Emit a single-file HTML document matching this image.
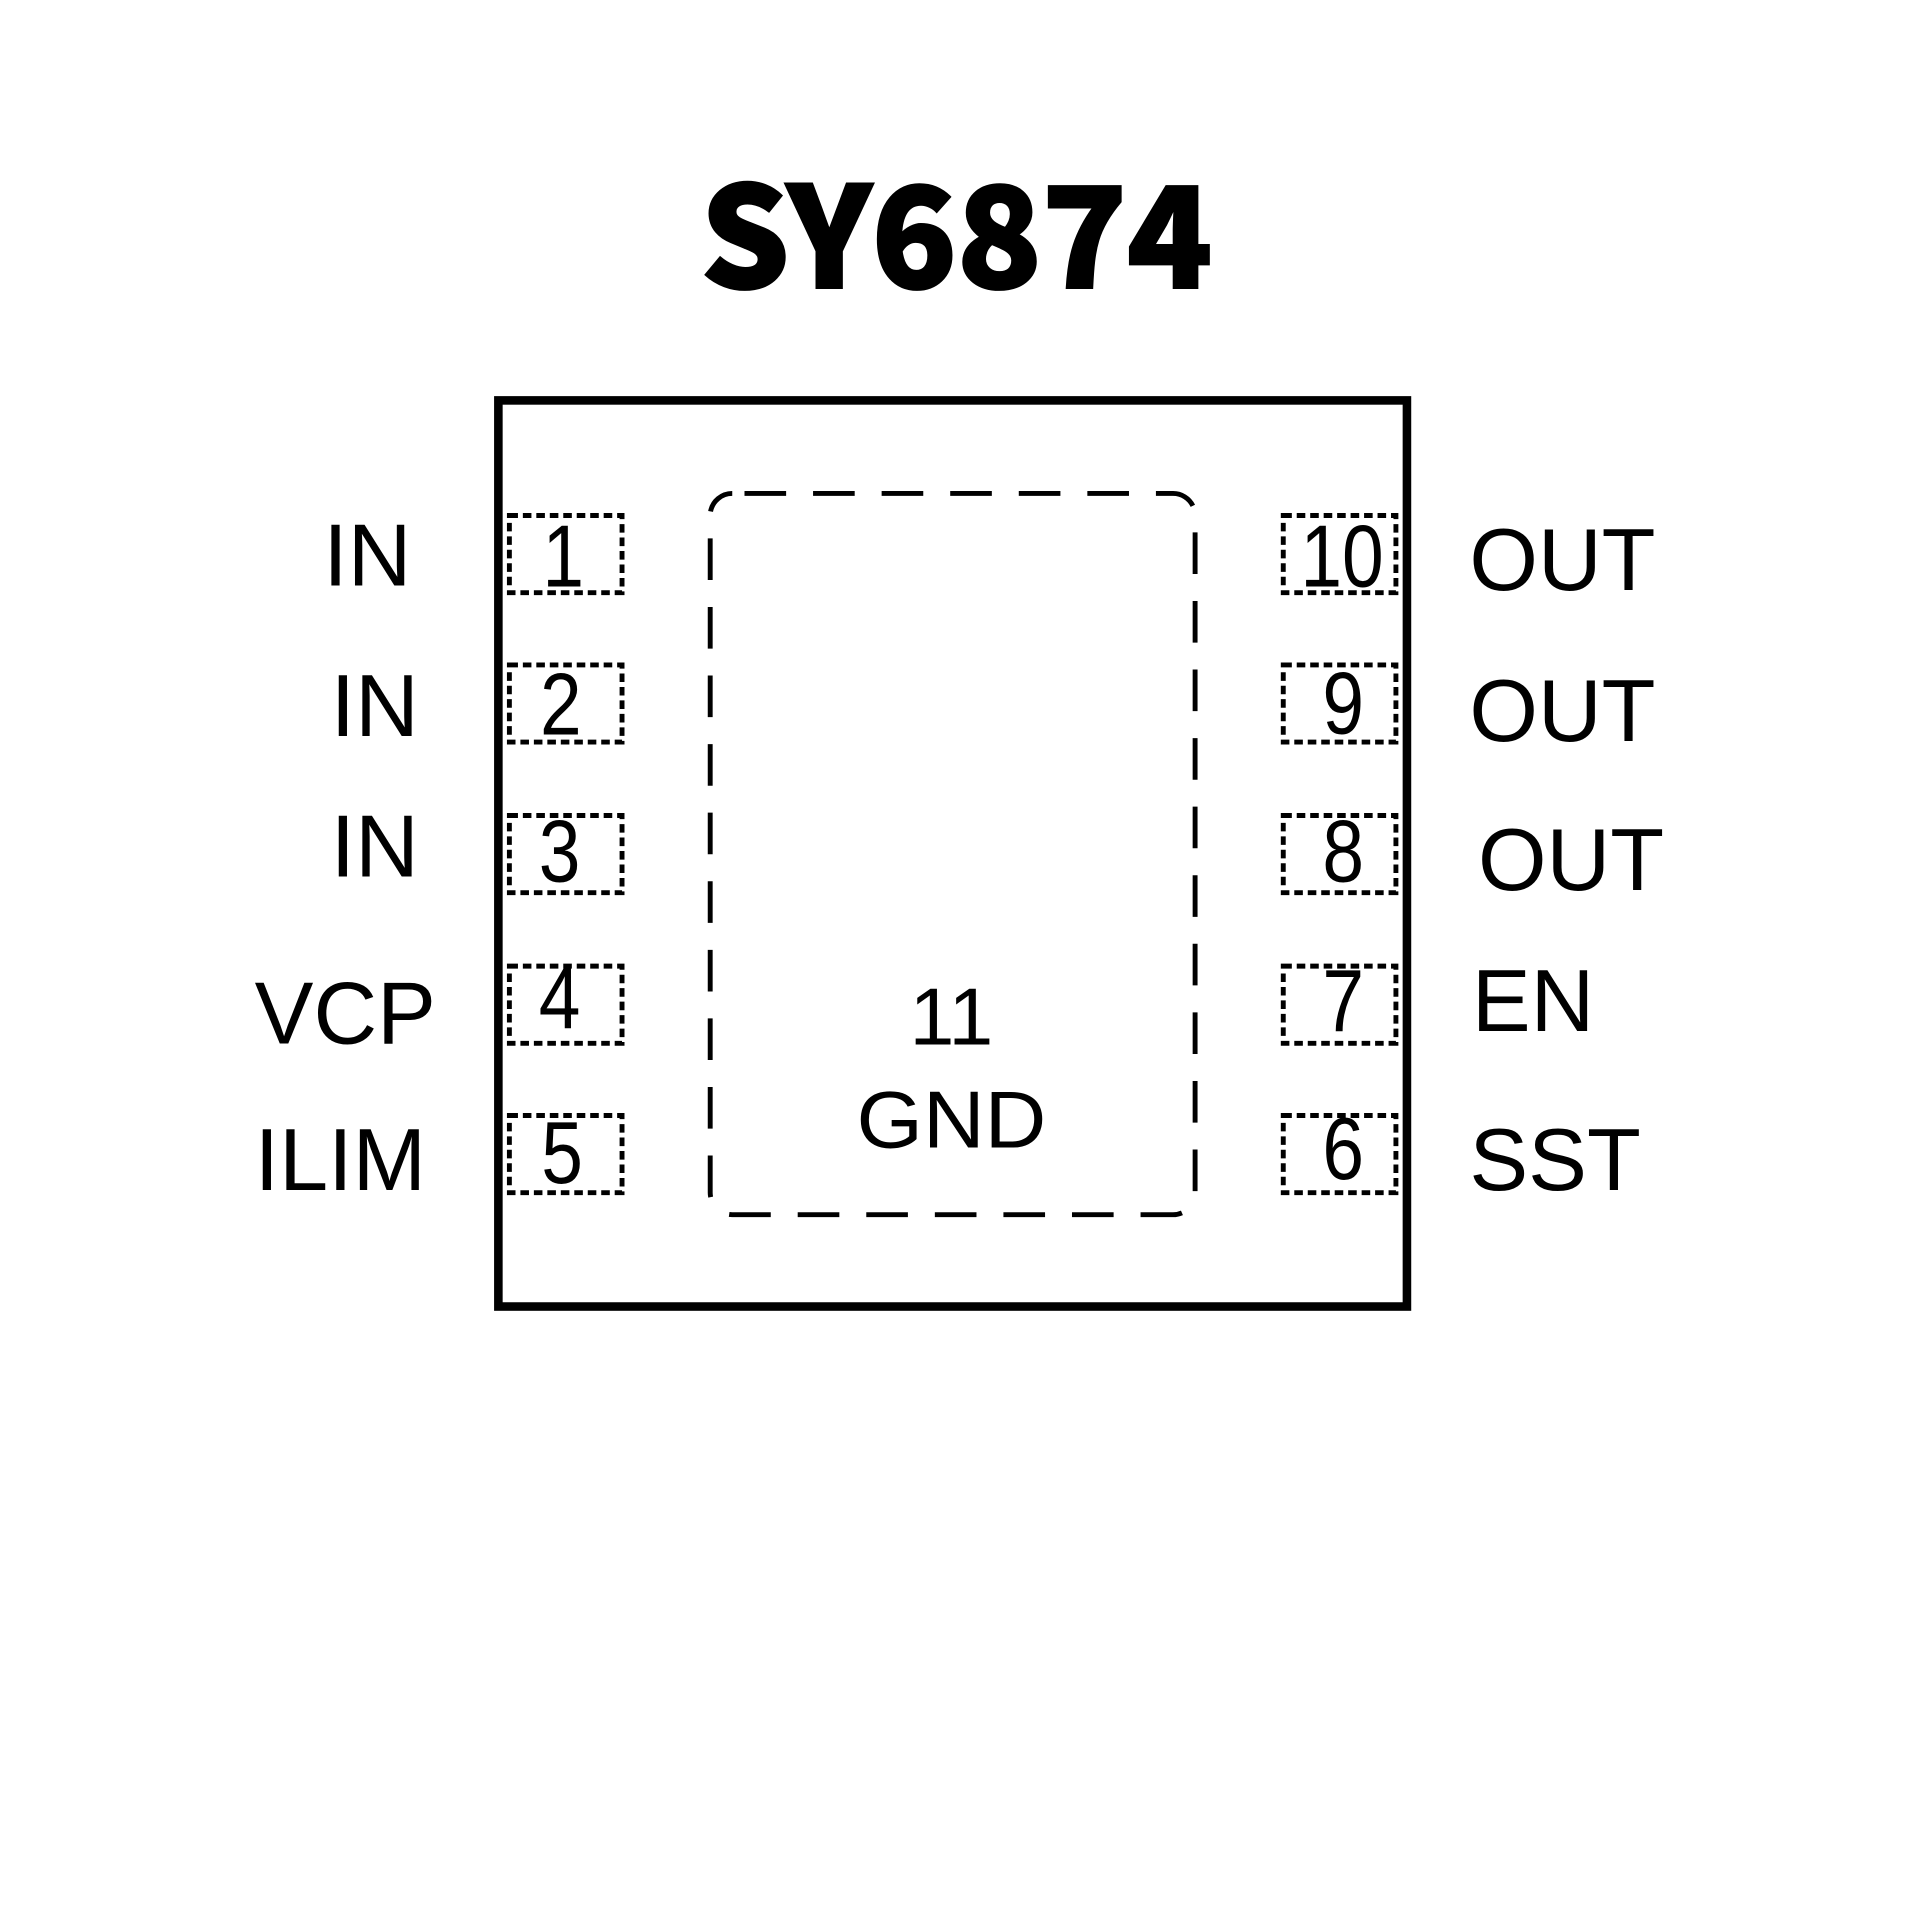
<!DOCTYPE html>
<html><head><meta charset="utf-8"><style>
html,body{margin:0;padding:0;background:#fff;}
svg{display:block;}
</style></head><body>
<svg width="1920" height="1920" viewBox="0 0 1568 1568" xmlns="http://www.w3.org/2000/svg">
<rect width="1568" height="1568" fill="#fff"/>
<text x="572" y="235" font-family="'Noto Sans CJK SC','DejaVu Sans',sans-serif" font-weight="900" font-size="114" textLength="418" lengthAdjust="spacingAndGlyphs" stroke="#000" stroke-width="2">SY6874</text>
<rect x="407" y="327" width="742" height="740" fill="none" stroke="#000" stroke-width="7"/>
<rect x="580" y="403" width="396" height="589" rx="18" fill="none" stroke="#000" stroke-width="4" stroke-dasharray="34 22" stroke-dashoffset="-10"/>
<g fill="none" stroke="#000" stroke-width="4" stroke-dasharray="7 4">
<rect x="416" y="421" width="92" height="63"/>
<rect x="416" y="543" width="92" height="63"/>
<rect x="416" y="666" width="92" height="63"/>
<rect x="416" y="789" width="92" height="63"/>
<rect x="416" y="911" width="92" height="63"/>
<rect x="1048" y="421" width="92" height="63"/>
<rect x="1048" y="543" width="92" height="63"/>
<rect x="1048" y="666" width="92" height="63"/>
<rect x="1048" y="789" width="92" height="63"/>
<rect x="1048" y="911" width="92" height="63"/>
</g>
<g font-family="'Liberation Sans',sans-serif" font-size="72" text-anchor="middle">
<text x="460" y="479" transform="translate(460 0) scale(0.85 1) translate(-460 0)">1</text>
<text x="458" y="600" transform="translate(458 0) scale(0.85 1) translate(-458 0)">2</text>
<text x="457" y="720" transform="translate(457 0) scale(0.85 1) translate(-457 0)">3</text>
<text x="457" y="840" transform="translate(457 0) scale(0.85 1) translate(-457 0)">4</text>
<text x="459" y="966" transform="translate(459 0) scale(0.85 1) translate(-459 0)">5</text>
<text x="1096" y="479" transform="translate(1096 0) scale(0.85 1) translate(-1096 0)">10</text>
<text x="1097" y="599" transform="translate(1097 0) scale(0.85 1) translate(-1097 0)">9</text>
<text x="1097" y="720" transform="translate(1097 0) scale(0.85 1) translate(-1097 0)">8</text>
<text x="1097" y="842" transform="translate(1097 0) scale(0.85 1) translate(-1097 0)">7</text>
<text x="1097" y="963" transform="translate(1097 0) scale(0.85 1) translate(-1097 0)">6</text>
</g>
<g font-family="'Liberation Sans',sans-serif" font-size="66" text-anchor="middle">
<text x="777" y="853">11</text>
<text x="777" y="937" textLength="155" lengthAdjust="spacingAndGlyphs">GND</text>
</g>
<g font-family="'Liberation Sans',sans-serif" font-size="72" text-anchor="end">
<text x="336" y="478">IN</text>
<text x="342" y="601">IN</text>
<text x="342" y="716">IN</text>
<text x="356" y="852">VCP</text>
<text x="348" y="972">ILIM</text>
</g>
<g font-family="'Liberation Sans',sans-serif" font-size="72">
<text x="1200" y="482">OUT</text>
<text x="1200" y="605">OUT</text>
<text x="1207" y="727">OUT</text>
<text x="1202" y="842">EN</text>
<text x="1200" y="972">SST</text>
</g>
</svg>
</body></html>
